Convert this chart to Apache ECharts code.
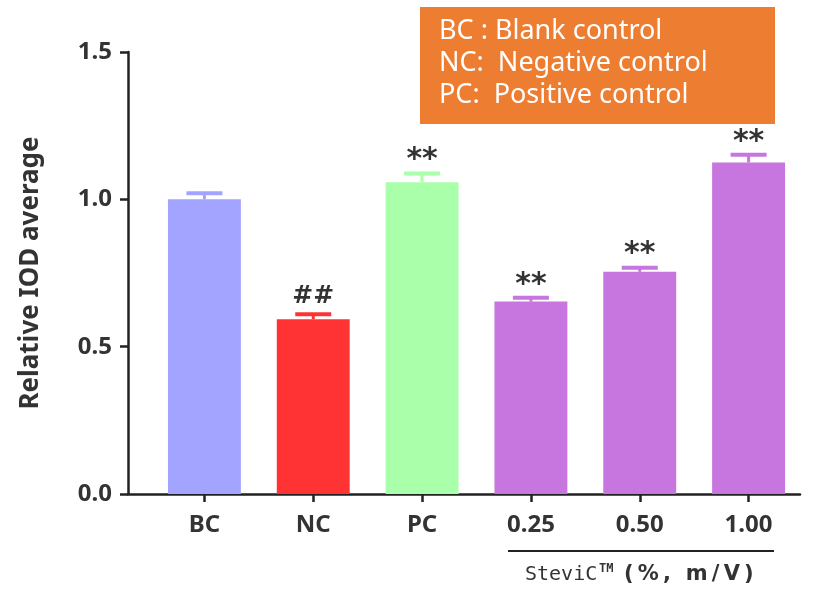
<!DOCTYPE html>
<html>
<head>
<meta charset="utf-8">
<script src="https://cdn.jsdelivr.net/npm/echarts@6/dist/echarts.min.js"></script>
<style>html,body{margin:0;padding:0;background:#fff;}#c{width:818px;height:590px;}</style>
</head>
<body>
<div id="c"></div>
<script>
const categories = ['BC', 'NC', 'PC', '0.25', '0.50', '1.00'];
const means = [1.00, 0.593, 1.058, 0.653, 0.754, 1.125];
const errors = [0.021, 0.017, 0.030, 0.013, 0.014, 0.026];
const marks = ['', '##', '**', '**', '**', '**'];
const barColors = ['#A3A4FF', '#FF3333', '#AAFFAA', '#C676DE', '#C676DE', '#C676DE'];
const yTicks = [0, 0.5, 1.0, 1.5];
const legendLines = ['BC : Blank control', 'NC:  Negative control', 'PC:  Positive control'];

const chart = echarts.init(document.getElementById('c'));
const axisColor = '#222';
const option = {
  backgroundColor: '#fff',
  animation: false,
  grid: [
    {left: 150, right: 15, top: 52, bottom: 96},
    {left: 128, right: 18, top: 52, bottom: 96}
  ],
  xAxis: [
    {
      type: 'category', gridIndex: 0, data: categories,
      axisLine: {show: false},
      axisTick: {show: true, alignWithLabel: true, length: 8, lineStyle: {color: axisColor, width: 2.5}},
      axisLabel: {color: '#333', fontSize: 24, fontWeight: 'bold', fontFamily: 'Noto Sans', margin: 19}
    },
    {
      type: 'value', gridIndex: 1, min: 0, max: 1,
      axisLine: {show: true, lineStyle: {color: axisColor, width: 2.5}},
      axisTick: {show: false}, axisLabel: {show: false}, splitLine: {show: false}
    }
  ],
  yAxis: [
    {
      type: 'value', gridIndex: 0, min: 0, max: 1.5, interval: 0.5, offset: 22,
      name: 'Relative IOD average', nameLocation: 'middle', nameRotate: 90, nameGap: 84,
      nameTextStyle: {color: '#333', fontSize: 26, fontWeight: 'bold', fontFamily: 'Noto Sans'},
      axisLine: {show: true, lineStyle: {color: axisColor, width: 2.5}},
      axisTick: {show: true, length: 8, lineStyle: {color: axisColor, width: 2.5}},
      axisLabel: {color: '#333', fontSize: 24, fontWeight: 'bold', fontFamily: 'Noto Sans', margin: 16,
        customValues: yTicks, formatter: v => v.toFixed(1)},
      splitLine: {show: false}
    },
    {type: 'value', gridIndex: 1, show: false, min: 0, max: 1}
  ],
  series: [
    {
      type: 'bar', xAxisIndex: 0, yAxisIndex: 0, barWidth: '67%',
      data: means.map((v, i) => ({value: v, itemStyle: {color: barColors[i]}}))
    },
    {
      type: 'custom', xAxisIndex: 0, yAxisIndex: 0, z: 5,
      data: means.map((v, i) => [i, v, errors[i]]),
      renderItem: function (params, api) {
        const i = api.value(0);
        const v = api.value(1);
        const e = api.value(2);
        const top = api.coord([i, v + e]);
        const base = api.coord([i, v]);
        const half = 18;
        const col = barColors[i];
        const children = [
          {type: 'line', shape: {x1: top[0], y1: top[1], x2: top[0], y2: base[1]}, style: {stroke: col, lineWidth: 3}},
          {type: 'line', shape: {x1: top[0] - half, y1: top[1], x2: top[0] + half, y2: top[1]}, style: {stroke: col, lineWidth: 4}}
        ];
        if (marks[i]) {
          const isHash = marks[i] === '##';
          children.push({
            type: 'text',
            x: top[0], y: top[1] - (isHash ? 5 : -2),
            style: {
              text: marks[i], fill: '#333',
              font: isHash ? 'bold 25px "DejaVu Sans"' : 'bold 30px "DejaVu Sans"',
              align: 'center', verticalAlign: 'bottom'
            }
          });
        }
        return {type: 'group', children: children};
      }
    }
  ],
  graphic: [
    {type: 'rect', left: 420, top: 7, shape: {width: 355, height: 117}, style: {fill: '#ED7D31'}},
    {type: 'text', left: 439, top: 18, style: {text: legendLines[0], fill: '#fff', font: '27px "Noto Sans"'}},
    {type: 'text', left: 439, top: 50, style: {text: legendLines[1], fill: '#fff', font: '27px "Noto Sans"'}},
    {type: 'text', left: 439, top: 82, style: {text: legendLines[2], fill: '#fff', font: '27px "Noto Sans"'}},
    {type: 'rect', left: 508, top: 550, shape: {width: 266, height: 2}, style: {fill: '#222'}},
    {type: 'text', x: 525, y: 585, style: {text: 'SteviC', fill: '#333', font: '20px "DejaVu Sans Mono"', verticalAlign: 'bottom'}},
    {type: 'text', x: 599, y: 575, style: {text: 'TM', fill: '#333', font: 'bold 12px "DejaVu Sans Mono"', verticalAlign: 'bottom'}},
    {type: 'text', x: 624, y: 585, style: {text: '(\u2009%\u2009,\u2002\u2009m\u2009/\u2009V\u2009)', fill: '#333', font: 'bold 21px "DejaVu Sans"', verticalAlign: 'bottom'}}
  ]
};
chart.setOption(option);
</script>
</body>
</html>
